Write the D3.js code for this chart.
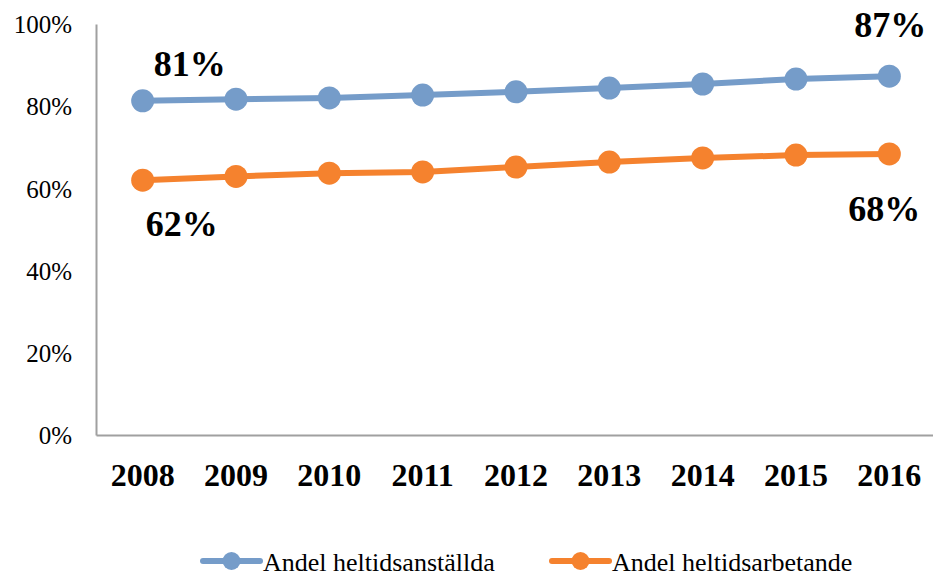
<!DOCTYPE html>
<html>
<head>
<meta charset="utf-8">
<script src="https://cdn.jsdelivr.net/npm/d3@7"></script>
<style>
  body { margin: 0; background: #fff; }
  svg { display: block; }
  svg text { font-family: 'Liberation Serif', 'Times New Roman', serif; fill: #000; }
</style>
</head>
<body>
<div id="chart"></div>
<script>
const years = ['2008', '2009', '2010', '2011', '2012', '2013', '2014', '2015', '2016'];
const anstallda = [81.3, 81.7, 82.0, 82.7, 83.5, 84.4, 85.4, 86.6, 87.3];
const arbetande = [62.0, 62.9, 63.7, 64.0, 65.2, 66.4, 67.4, 68.1, 68.4];
const yTicks = [0, 20, 40, 60, 80, 100];
const seriesNames = ['Andel heltidsanställda', 'Andel heltidsarbetande'];
const colors = ['#759cc9', '#f5822e'];

const width = 933;
const height = 578;
const margins = { top: 24, right: -3, bottom: 143, left: 96 };

const svg = d3.select('#chart')
  .append('svg')
    .attr('width', width)
    .attr('height', height);

const scaleX = d3.scaleBand()
  .domain(years)
  .range([margins.left, width - margins.right]);
const scaleY = d3.scaleLinear()
  .domain([0, 100])
  .range([height - margins.bottom, margins.top]);
const cx = d => scaleX(d) + scaleX.bandwidth() / 2;

// axes
const axisY = d3.axisLeft(scaleY)
  .tickValues(yTicks)
  .tickSize(0)
  .tickPadding(24)
  .tickFormat(d => d + '%');
const y = svg.append('g')
  .attr('transform', `translate(${margins.left}, 0)`)
  .call(axisY);
y.select('.domain').attr('stroke', '#a0a0a0').attr('stroke-width', 2);
y.selectAll('.tick text')
  .style('font-size', '25px')
  .attr('dy', '0.35em');

const axisX = d3.axisBottom(scaleX)
  .tickSize(0)
  .tickPadding(51);
const x = svg.append('g')
  .attr('transform', `translate(0, ${scaleY(0)})`)
  .call(axisX);
x.select('.domain').attr('stroke', '#a0a0a0').attr('stroke-width', 2);
x.selectAll('.tick text')
  .style('font-size', '32px')
  .style('font-weight', 'bold')
  .attr('dy', 0);

// lines
const series = [anstallda, arbetande];
const line = d3.line()
  .x((d, i) => cx(years[i]))
  .y(d => scaleY(d));

series.forEach((values, s) => {
  const g = svg.append('g');
  g.append('path')
    .datum(values)
    .attr('fill', 'none')
    .attr('stroke', colors[s])
    .attr('stroke-width', 6)
    .attr('d', line);
  g.selectAll('circle')
    .data(values)
    .enter()
    .append('circle')
      .attr('cx', (d, i) => cx(years[i]))
      .attr('cy', d => scaleY(d))
      .attr('r', 11.5)
      .attr('fill', colors[s]);
});

// end labels
const labels = [
  { v: anstallda[0], i: 0, dx: 47, dy: -25 },
  { v: anstallda[8], i: 8, dx: 1, dy: -39 },
  { v: arbetande[0], i: 0, dx: 39, dy: 56 },
  { v: arbetande[8], i: 8, dx: -5, dy: 67 },
];
svg.append('g')
  .selectAll('text')
  .data(labels)
  .enter()
  .append('text')
    .attr('x', d => cx(years[d.i]) + d.dx)
    .attr('y', d => scaleY(d.v) + d.dy)
    .attr('text-anchor', 'middle')
    .style('font-size', '36px')
    .style('font-weight', 'bold')
    .text(d => Math.round(d.v) + '%');

// legend
const legendX = [203, 552];
const legend = svg.append('g')
  .selectAll('g')
  .data(seriesNames)
  .enter()
  .append('g')
    .attr('transform', (d, i) => `translate(${legendX[i]}, 561)`);
legend.append('line')
  .attr('x1', 0).attr('x2', 57)
  .attr('stroke', (d, i) => colors[i])
  .attr('stroke-width', 6)
  .attr('stroke-linecap', 'round');
legend.append('circle')
  .attr('cx', 28.5)
  .attr('r', 9)
  .attr('fill', (d, i) => colors[i]);
legend.append('text')
  .attr('x', 60)
  .attr('y', 10)
  .style('font-size', '26px')
  .text(d => d);
</script>
</body>
</html>
